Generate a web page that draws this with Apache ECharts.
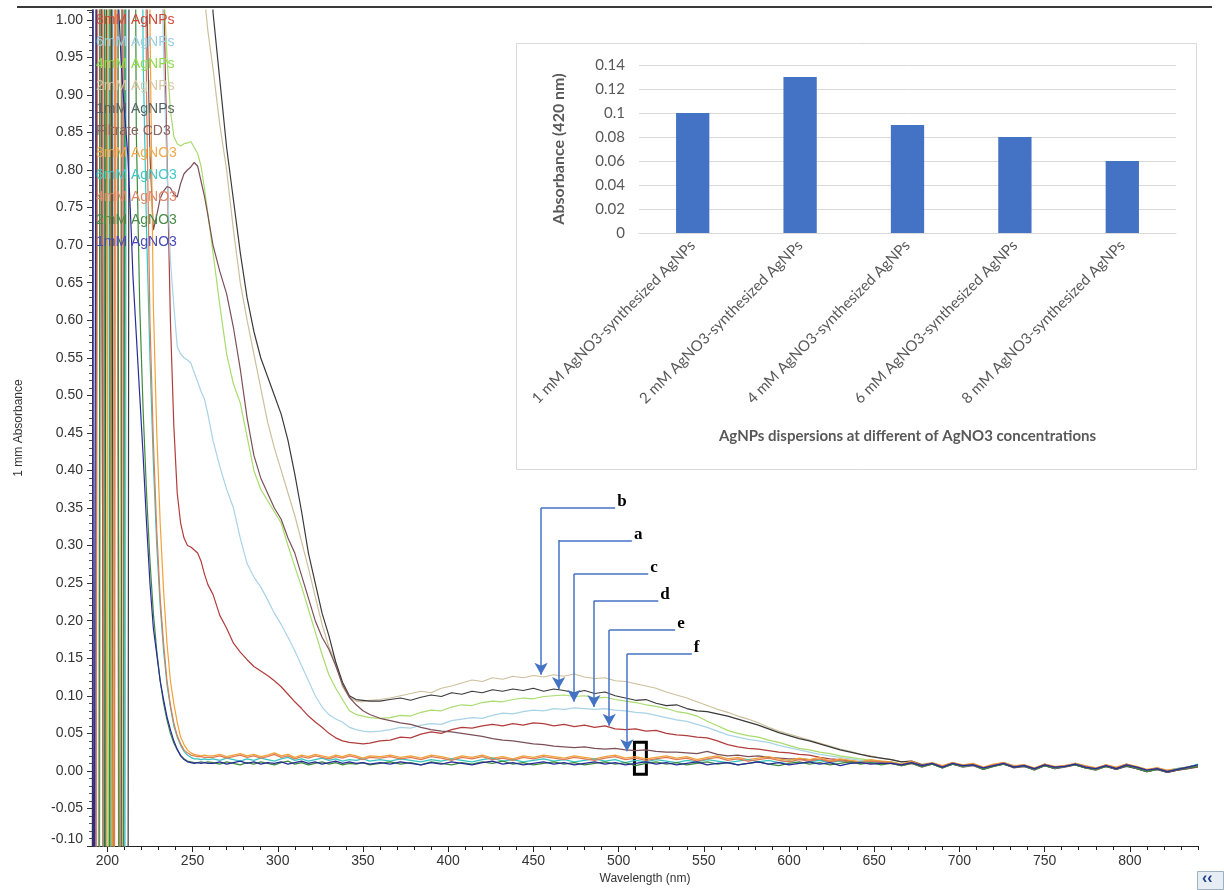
<!DOCTYPE html>
<html>
<head>
<meta charset="utf-8">
<title>UV-Vis spectra of AgNPs</title>
<script src="https://cdn.jsdelivr.net/npm/echarts@6/dist/echarts.min.js"></script>
<style>
  html, body { margin: 0; padding: 0; background: #fff; }
  #chart { width: 1224px; height: 890px; }
</style>
</head>
<body>
<div id="chart"></div>
<script>
// wavelength grid (nm) shared by all spectra
const wavelength = [
  191,192,193,194,195,196,197,198,199,200,201,202,203,204,205,206,207,208,209,210,211,212,213,214,215,
  217,219,221,223,225,227,229,231,233,235,237,239,241,243,245,247,249,251,253,255,257,259,
  262,266,270,274,278,282,286,290,294,298,302,306,310,314,318,322,326,330,334,338,342,346,350,354,
  360,366,372,378,384,390,396,402,408,414,420,426,432,438,444,450,456,462,468,474,
  480,486,492,498,504,510,516,522,528,534,540,546,552,558,564,570,576,582,588,594,
  600,606,612,618,624,630,636,642,648,654,660,666,672,678,684,690,696,702,708,714,
  720,726,732,738,744,750,756,762,768,774,780,786,792,798,804,810,816,822,828,834,840
]

// absorbance (values above 1.01 / below -0.10 are off scale)
const agnp8mM = [
  -0.6,-0.6,-0.6,-0.6,-0.6,1.8,1.8,1.8,1.8,1.8,1.8,1.8,-0.6,-0.6,-0.6,-0.6,-0.6,-0.6,1.8,1.8,1.8,1.8,1.8,1.8,1.8,
  1.8,1.8,1.8,1.8,1.8,1.8,1.8,1.4,1.05,0.82,0.6,0.46,0.37,0.33,0.31,0.3,0.298,0.294,0.29,0.279,0.262,0.248,
  0.235,0.207,0.19,0.17,0.158,0.148,0.139,0.133,0.127,0.12,0.112,0.102,0.092,0.083,0.073,0.065,0.058,0.05,0.044,0.04,0.038,0.037,0.036,0.037,
  0.04,0.041,0.045,0.044,0.049,0.052,0.05,0.055,0.058,0.057,0.06,0.062,0.06,0.063,0.061,0.064,0.063,0.06,0.062,0.059,
  0.061,0.058,0.06,0.056,0.055,0.056,0.053,0.054,0.05,0.048,0.047,0.045,0.044,0.04,0.035,0.032,0.03,0.029,0.027,0.025,
  0.024,0.022,0.021,0.018,0.016,0.015,0.013,0.012,0.012,0.011,0.011,0.008,0.012,0.006,0.010,0.006,0.011,0.007,0.008,0.004,
  0.008,0.011,0.006,0.007,0.003,0.009,0.005,0.006,0.010,0.006,0.003,0.008,0.004,0.009,0.005,0.001,0.004,0.000,0.003,0.005,0.008
]
const agnp6mM = [
  1.8,1.8,1.8,-0.6,-0.6,-0.6,-0.6,-0.6,-0.6,-0.6,1.8,1.8,1.8,-0.6,-0.6,-0.6,-0.6,-0.6,-0.6,-0.6,-0.6,1.8,1.8,1.8,1.8,
  1.8,1.8,1.8,1.8,1.8,1.8,1.8,1.2,0.95,0.8,0.68,0.62,0.565,0.555,0.55,0.547,0.543,0.53,0.518,0.505,0.495,0.475,
  0.44,0.405,0.375,0.35,0.31,0.276,0.258,0.245,0.228,0.21,0.195,0.178,0.16,0.14,0.12,0.1,0.085,0.075,0.069,0.065,0.058,0.055,0.053,0.052,
  0.053,0.055,0.058,0.057,0.061,0.063,0.062,0.067,0.069,0.071,0.07,0.074,0.077,0.076,0.079,0.081,0.08,0.083,0.082,0.084,
  0.083,0.082,0.083,0.081,0.08,0.078,0.077,0.074,0.071,0.068,0.066,0.062,0.058,0.053,0.048,0.045,0.042,0.04,0.038,0.034,
  0.031,0.028,0.025,0.022,0.02,0.018,0.016,0.014,0.013,0.012,0.010,0.008,0.011,0.007,0.009,0.004,0.010,0.006,0.009,0.004,
  0.006,0.010,0.006,0.008,0.003,0.007,0.005,0.007,0.008,0.004,0.003,0.006,0.003,0.007,0.005,0.001,0.002,0.001,0.003,0.004,0.007
]
const agnp4mM = [
  -0.6,-0.6,-0.6,-0.6,-0.6,-0.6,1.8,1.8,1.8,1.8,-0.6,-0.6,-0.6,-0.6,-0.6,-0.6,-0.6,-0.6,1.8,1.8,1.8,1.8,1.8,1.8,1.8,
  1.8,1.8,1.8,1.8,1.8,1.8,1.8,1.8,1.05,0.95,0.88,0.845,0.835,0.832,0.835,0.836,0.838,0.83,0.822,0.805,0.775,0.742,
  0.69,0.62,0.555,0.515,0.49,0.445,0.4,0.375,0.36,0.345,0.33,0.3,0.272,0.245,0.215,0.185,0.155,0.128,0.11,0.095,0.08,0.075,0.073,0.071,
  0.07,0.071,0.074,0.073,0.078,0.081,0.08,0.085,0.088,0.087,0.091,0.093,0.092,0.095,0.097,0.096,0.099,0.1,0.101,0.099,
  0.1,0.097,0.098,0.095,0.093,0.091,0.088,0.086,0.083,0.079,0.077,0.073,0.066,0.06,0.054,0.05,0.047,0.045,0.041,0.038,
  0.034,0.03,0.028,0.025,0.023,0.02,0.018,0.016,0.014,0.013,0.012,0.009,0.011,0.008,0.010,0.005,0.009,0.007,0.008,0.003,
  0.007,0.009,0.005,0.006,0.002,0.008,0.004,0.007,0.009,0.005,0.002,0.007,0.002,0.008,0.003,0.000,0.003,-0.002,0.002,0.004,0.006
]
const agnp2mM = [
  1.8,1.8,-0.6,-0.6,-0.6,-0.6,1.8,1.8,1.8,1.8,1.8,-0.6,-0.6,-0.6,1.8,1.8,1.8,1.8,1.8,1.8,1.8,1.8,1.8,1.8,1.8,
  1.8,1.8,1.8,1.8,1.8,1.8,1.8,1.8,1.8,1.8,1.8,1.8,1.8,1.8,1.8,1.8,1.8,1.8,1.8,1.8,1.03,0.985,
  0.935,0.86,0.8,0.72,0.65,0.6,0.555,0.51,0.465,0.43,0.4,0.37,0.34,0.305,0.27,0.232,0.195,0.165,0.145,0.112,0.098,0.093,0.092,0.094,
  0.095,0.097,0.1,0.103,0.106,0.104,0.11,0.113,0.117,0.121,0.119,0.124,0.122,0.126,0.124,0.127,0.125,0.128,0.126,0.129,
  0.125,0.123,0.124,0.12,0.119,0.116,0.113,0.11,0.105,0.101,0.097,0.092,0.087,0.082,0.078,0.073,0.069,0.064,0.058,0.053,
  0.049,0.045,0.041,0.037,0.033,0.029,0.026,0.022,0.02,0.017,0.015,0.012,0.013,0.009,0.011,0.006,0.010,0.007,0.009,0.004,
  0.008,0.010,0.006,0.007,0.003,0.008,0.005,0.006,0.010,0.005,0.003,0.007,0.004,0.008,0.004,0.001,0.003,0.000,0.003,0.004,0.008
]
const agnp1mM = [
  -0.6,1.8,1.8,1.8,1.8,1.8,1.8,-0.6,-0.6,1.8,1.8,1.8,1.8,-0.6,-0.6,-0.6,-0.6,-0.6,-0.6,-0.6,-0.6,-0.6,1.8,1.8,1.8,
  1.8,1.8,1.8,1.8,1.8,1.8,1.8,1.8,1.8,1.8,1.8,1.8,1.8,1.8,1.8,1.8,1.8,1.8,1.8,1.8,1.8,1.8,
  1.01,0.92,0.83,0.76,0.69,0.63,0.585,0.55,0.525,0.5,0.475,0.44,0.395,0.345,0.29,0.25,0.21,0.18,0.145,0.118,0.1,0.095,0.094,0.093,
  0.093,0.095,0.097,0.094,0.098,0.101,0.099,0.104,0.102,0.106,0.104,0.108,0.106,0.109,0.107,0.11,0.106,0.109,0.107,0.104,
  0.107,0.103,0.105,0.1,0.097,0.094,0.095,0.09,0.087,0.088,0.083,0.08,0.079,0.076,0.073,0.069,0.065,0.061,0.056,0.051,
  0.047,0.043,0.04,0.036,0.032,0.028,0.025,0.022,0.019,0.017,0.015,0.012,0.013,0.008,0.010,0.005,0.009,0.006,0.008,0.003,
  0.007,0.009,0.005,0.006,0.002,0.007,0.003,0.006,0.008,0.004,0.002,0.006,0.002,0.006,0.003,-0.001,0.002,-0.002,0.001,0.003,0.006
]
const filtrate = [
  -0.6,-0.6,-0.6,1.8,1.8,1.8,1.8,-0.6,-0.6,-0.6,-0.6,-0.6,-0.6,-0.6,-0.6,-0.6,-0.6,-0.6,1.8,1.8,1.8,1.8,1.8,1.8,1.8,
  1.8,1.8,1.8,1.05,0.82,0.72,0.74,0.762,0.772,0.778,0.776,0.768,0.764,0.782,0.795,0.8,0.804,0.81,0.805,0.785,0.765,0.74,
  0.7,0.665,0.635,0.59,0.535,0.47,0.42,0.39,0.37,0.35,0.335,0.31,0.29,0.26,0.23,0.2,0.178,0.162,0.14,0.115,0.098,0.088,0.08,0.075,
  0.07,0.067,0.064,0.062,0.058,0.055,0.053,0.052,0.05,0.048,0.046,0.043,0.041,0.04,0.038,0.036,0.035,0.033,0.032,0.031,
  0.032,0.03,0.029,0.03,0.028,0.027,0.028,0.026,0.025,0.025,0.024,0.023,0.026,0.022,0.02,0.021,0.019,0.02,0.018,0.017,
  0.016,0.016,0.015,0.014,0.013,0.013,0.012,0.011,0.01,0.011,0.010,0.007,0.010,0.005,0.009,0.004,0.009,0.005,0.007,0.002,
  0.006,0.009,0.004,0.006,0.001,0.007,0.003,0.005,0.008,0.004,0.001,0.006,0.002,0.007,0.003,-0.001,0.002,-0.002,0.001,0.003,0.005
]
const no3_8mM = [
  -0.6,-0.6,-0.6,-0.6,-0.6,-0.6,-0.6,-0.6,-0.6,-0.6,1.8,1.8,-0.6,-0.6,1.8,1.8,1.8,1.8,1.8,1.8,1.8,1.8,1.8,1.8,1.8,
  1.8,1.8,1.8,1.8,1.0,0.62,0.45,0.33,0.24,0.17,0.12,0.09,0.065,0.045,0.035,0.028,0.024,0.022,0.021,0.02,0.021,0.02,
  0.020,0.022,0.019,0.021,0.023,0.020,0.022,0.019,0.021,0.024,0.020,0.022,0.018,0.021,0.019,0.022,0.020,0.018,0.021,0.019,0.022,0.020,0.017,0.020,
  0.019,0.021,0.018,0.020,0.017,0.021,0.019,0.016,0.020,0.018,0.021,0.017,0.019,0.016,0.020,0.018,0.021,0.019,0.017,0.020,
  0.018,0.016,0.019,0.021,0.017,0.019,0.016,0.018,0.020,0.017,0.019,0.015,0.018,0.020,0.016,0.018,0.015,0.017,0.019,0.016,
  0.014,0.017,0.015,0.018,0.013,0.016,0.014,0.012,0.015,0.013,0.012,0.009,0.013,0.007,0.011,0.007,0.011,0.008,0.010,0.005,
  0.009,0.011,0.007,0.008,0.004,0.009,0.006,0.007,0.010,0.007,0.004,0.008,0.005,0.009,0.006,0.002,0.004,0.001,0.003,0.005,0.008
]
const no3_6mM = [
  -0.6,-0.6,-0.6,-0.6,-0.6,-0.6,-0.6,-0.6,1.8,1.8,1.8,-0.6,-0.6,-0.6,-0.6,-0.6,-0.6,-0.6,-0.6,-0.6,1.8,1.8,1.8,1.8,1.8,
  1.8,1.8,0.95,0.72,0.55,0.41,0.3,0.22,0.16,0.115,0.085,0.06,0.045,0.034,0.026,0.021,0.018,0.016,0.016,0.015,0.016,0.015,
  0.016,0.014,0.017,0.015,0.013,0.016,0.014,0.017,0.015,0.013,0.016,0.018,0.014,0.016,0.013,0.015,0.017,0.014,0.016,0.013,0.015,0.014,0.016,0.013,
  0.015,0.013,0.016,0.014,0.012,0.015,0.013,0.016,0.014,0.012,0.015,0.017,0.013,0.015,0.012,0.014,0.016,0.013,0.015,0.012,
  0.014,0.016,0.013,0.015,0.011,0.014,0.012,0.015,0.013,0.011,0.014,0.012,0.015,0.013,0.011,0.013,0.015,0.012,0.014,0.011,
  0.013,0.010,0.012,0.014,0.011,0.013,0.010,0.012,0.011,0.010,0.011,0.008,0.011,0.006,0.010,0.005,0.010,0.006,0.008,0.003,
  0.007,0.010,0.006,0.007,0.002,0.008,0.004,0.006,0.009,0.006,0.002,0.007,0.003,0.008,0.004,0.000,0.003,-0.001,0.003,0.005,0.009
]
const no3_4mM = [
  -0.6,-0.6,-0.6,-0.6,1.8,1.8,1.8,-0.6,-0.6,-0.6,-0.6,-0.6,-0.6,-0.6,1.8,1.8,-0.6,-0.6,-0.6,1.8,1.8,1.8,1.8,1.8,1.8,
  1.8,1.8,1.8,0.9,0.6,0.44,0.32,0.23,0.17,0.12,0.088,0.064,0.047,0.036,0.028,0.024,0.021,0.02,0.019,0.019,0.018,0.018,
  0.018,0.020,0.017,0.019,0.021,0.018,0.020,0.017,0.019,0.022,0.018,0.020,0.016,0.019,0.017,0.020,0.018,0.016,0.019,0.017,0.020,0.018,0.015,0.018,
  0.017,0.019,0.016,0.018,0.015,0.019,0.017,0.014,0.018,0.016,0.019,0.015,0.017,0.014,0.018,0.016,0.019,0.017,0.015,0.018,
  0.016,0.014,0.017,0.019,0.015,0.017,0.014,0.016,0.018,0.015,0.017,0.013,0.016,0.018,0.014,0.016,0.013,0.015,0.017,0.014,
  0.012,0.015,0.013,0.016,0.012,0.014,0.012,0.011,0.013,0.012,0.011,0.008,0.012,0.007,0.010,0.006,0.010,0.007,0.009,0.004,
  0.008,0.010,0.006,0.008,0.003,0.008,0.005,0.007,0.009,0.006,0.003,0.007,0.004,0.008,0.005,0.001,0.003,0.000,0.002,0.005,0.007
]
const no3_2mM = [
  -0.6,-0.6,-0.6,-0.6,-0.6,1.8,1.8,1.8,-0.6,-0.6,-0.6,1.8,1.8,1.8,1.8,1.8,-0.6,-0.6,-0.6,-0.6,1.8,1.8,1.8,1.8,1.8,
  0.85,0.62,0.48,0.37,0.28,0.21,0.16,0.12,0.09,0.068,0.05,0.037,0.028,0.021,0.016,0.013,0.012,0.011,0.011,0.012,0.011,0.012,
  0.011,0.009,0.012,0.010,0.008,0.011,0.009,0.012,0.010,0.008,0.011,0.013,0.009,0.011,0.008,0.010,0.012,0.009,0.011,0.008,0.010,0.009,0.011,0.008,
  0.010,0.012,0.009,0.011,0.008,0.012,0.010,0.008,0.011,0.009,0.012,0.010,0.013,0.009,0.011,0.008,0.010,0.012,0.009,0.011,
  0.008,0.010,0.012,0.009,0.011,0.007,0.010,0.012,0.009,0.011,0.008,0.010,0.012,0.009,0.011,0.008,0.010,0.012,0.009,0.007,
  0.010,0.012,0.009,0.011,0.008,0.010,0.012,0.009,0.011,0.008,0.010,0.007,0.010,0.006,0.009,0.004,0.009,0.006,0.008,0.002,
  0.006,0.009,0.005,0.007,0.002,0.007,0.004,0.006,0.008,0.004,0.002,0.006,0.003,0.007,0.004,-0.001,0.002,-0.001,0.002,0.004,0.006
]
const no3_1mM = [
  1.8,-0.6,-0.6,1.8,1.8,1.8,1.8,1.8,1.8,1.8,1.8,1.8,1.8,1.8,1.8,1.05,1.0,0.95,0.91,0.88,0.85,0.82,0.77,0.72,0.66,
  0.58,0.5,0.42,0.33,0.25,0.19,0.155,0.12,0.095,0.072,0.055,0.04,0.029,0.02,0.015,0.012,0.011,0.01,0.011,0.01,0.011,0.01,
  0.010,0.012,0.009,0.011,0.013,0.010,0.012,0.009,0.011,0.010,0.012,0.009,0.011,0.013,0.010,0.012,0.009,0.011,0.013,0.010,0.012,0.010,0.011,0.009,
  0.011,0.009,0.012,0.010,0.008,0.011,0.009,0.012,0.010,0.008,0.011,0.013,0.009,0.011,0.008,0.010,0.012,0.009,0.011,0.008,
  0.010,0.012,0.009,0.011,0.008,0.010,0.012,0.009,0.011,0.008,0.010,0.012,0.008,0.010,0.011,0.008,0.010,0.012,0.009,0.011,
  0.008,0.010,0.012,0.009,0.011,0.007,0.010,0.011,0.009,0.010,0.010,0.008,0.011,0.007,0.010,0.005,0.010,0.007,0.008,0.004,
  0.007,0.010,0.005,0.007,0.003,0.008,0.005,0.006,0.009,0.005,0.003,0.007,0.003,0.008,0.005,0.001,0.003,-0.001,0.002,0.005,0.008
]

const seriesNames = ['8mM AgNPs', '6mM AgNPs', '4mM AgNPs', '2mM AgNPs', '1mM AgNPs', 'Filtrate CD3',
  '8mM AgNO3', '6mM AgNO3', '4mM AgNO3', '2mM AgNO3', '1mM AgNO3']
const seriesValues = [agnp8mM, agnp6mM, agnp4mM, agnp2mM, agnp1mM, filtrate,
  no3_8mM, no3_6mM, no3_4mM, no3_2mM, no3_1mM]
const lineColors = ['#b23c3c', '#a9d3e6', '#a8dc6c', '#cdbf9c', '#3a3a3a', '#7c5058',
  '#f0a236', '#34c6c0', '#e07a54', '#3d8a3d', '#2a2a9a']
const legendColors = ['#d04a3a', '#9ccfe2', '#8edc4e', '#d6c9a6', '#556464', '#8a6262',
  '#f0aa50', '#44c8c6', '#e0896a', '#4a8a4a', '#4a4ab8']

// SPR arrows a-f (nm / absorbance)
const arrowLetters = ['b', 'a', 'c', 'd', 'e', 'f']
const arrowStemNm = [454.5, 464.8, 473.8, 485.5, 494.5, 504.9]
const arrowEndNm = [498.0, 507.8, 517.4, 523.3, 533.2, 543.0]
const arrowTopAbs = [0.350, 0.307, 0.262, 0.2265, 0.1875, 0.1555]
const arrowTipAbs = [0.128, 0.109, 0.092, 0.085, 0.060, 0.026]

// inset bar chart
const insetCategories = ['1 mM AgNO3-synthesized AgNPs', '2 mM AgNO3-synthesized AgNPs',
  '4 mM AgNO3-synthesized AgNPs', '6 mM AgNO3-synthesized AgNPs', '8 mM AgNO3-synthesized AgNPs']
const insetValues = [0.10, 0.13, 0.09, 0.08, 0.06]

const xMinorTicks = [200,210,220,230,240,250,260,270,280,290,300,310,320,330,340,350,360,370,380,390,
  400,410,420,430,440,450,460,470,480,490,500,510,520,530,540,550,560,570,580,590,
  600,610,620,630,640,650,660,670,680,690,700,710,720,730,740,750,760,770,780,790,800,810,820,830,840]
const xMajorTicks = [200,250,300,350,400,450,500,550,600,650,700,750,800]

const chart = echarts.init(document.getElementById('chart'), null, { renderer: 'canvas' })

const spectra = seriesNames.map((name, i) => ({
  name,
  type: 'line',
  xAxisIndex: 0,
  yAxisIndex: 0,
  data: wavelength.map((w, k) => [w, seriesValues[i][k]]),
  showSymbol: false,
  symbol: 'none',
  clip: true,
  lineStyle: { color: lineColors[i], width: 1.2 },
  itemStyle: { color: lineColors[i] },
  animation: false
}))

const arrowLines = []
arrowLetters.forEach((letter, i) => {
  arrowLines.push([
    { coord: [arrowStemNm[i], arrowTopAbs[i]], symbol: 'none' },
    {
      coord: [arrowEndNm[i], arrowTopAbs[i]], symbol: 'none',
      label: {
        show: true, position: 'end', formatter: letter, distance: 2, offset: [0, -6],
        color: '#000', fontFamily: 'Liberation Serif', fontWeight: 'bold', fontSize: 17
      }
    }
  ])
  arrowLines.push([
    { coord: [arrowStemNm[i], arrowTopAbs[i]], symbol: 'none' },
    { coord: [arrowStemNm[i], arrowTipAbs[i]], symbol: 'arrow' }
  ])
})

const axisFont = { fontFamily: 'Liberation Sans', fontSize: 14, color: '#333' }
const insetFont = 'Lato'

const option = {
  animation: false,
  backgroundColor: '#fff',
  legend: {
    orient: 'vertical',
    left: 91,
    top: 12,
    padding: 0,
    itemWidth: 0,
    itemHeight: 0,
    itemGap: 6.2,
    selectedMode: false,
    textStyle: { fontFamily: 'Liberation Sans', fontSize: 14, lineHeight: 16 },
    data: seriesNames.map((n, i) => ({ name: n, icon: 'none', textStyle: { color: legendColors[i] } }))
  },
  grid: [
    { left: 92, right: 26, top: 10, bottom: 44 },
    { left: 639, top: 65, width: 537, height: 168 }
  ],
  xAxis: [
    {
      gridIndex: 0,
      type: 'value',
      min: 191,
      max: 840,
      axisLine: { show: true, onZero: false, lineStyle: { color: '#222', width: 1 } },
      axisTick: { show: true, customValues: xMinorTicks, length: 4, lineStyle: { color: '#222' } },
      axisLabel: { show: false },
      splitLine: { show: false }
    },
    {
      gridIndex: 0,
      type: 'value',
      min: 191,
      max: 840,
      position: 'bottom',
      axisLine: { show: false, onZero: false },
      axisTick: { show: true, customValues: xMajorTicks, length: 6, lineStyle: { color: '#222' } },
      axisLabel: { show: true, customValues: xMajorTicks, margin: 8, ...axisFont },
      splitLine: { show: false },
      name: 'Wavelength (nm)',
      nameLocation: 'middle',
      nameGap: 27,
      nameTextStyle: { fontFamily: 'Liberation Sans', fontSize: 12, color: '#333' }
    },
    {
      gridIndex: 1,
      type: 'category',
      data: insetCategories,
      axisLine: { show: true, lineStyle: { color: '#d9d9d9' } },
      axisTick: { show: false },
      axisLabel: {
        rotate: 45, margin: 10, color: '#595959', fontFamily: insetFont, fontSize: 15
      },
      name: 'AgNPs dispersions at different of AgNO3 concentrations',
      nameLocation: 'middle',
      nameGap: 196,
      nameTextStyle: { color: '#595959', fontFamily: insetFont, fontWeight: 'bold', fontSize: 15 }
    }
  ],
  yAxis: [
    {
      gridIndex: 0,
      type: 'value',
      min: -0.1,
      max: 1.013,
      interval: 0.05,
      axisLine: { show: true, onZero: false, lineStyle: { color: '#333', type: 'dotted' } },
      axisTick: { show: true, length: 5, lineStyle: { color: '#333' } },
      minorTick: { show: true, splitNumber: 5, length: 3, lineStyle: { color: '#555' } },
      axisLabel: {
        formatter: v => v.toFixed(2), margin: 9, showMaxLabel: false,
        verticalAlignMinLabel: 'bottom', ...axisFont
      },
      splitLine: { show: false },
      name: '1 mm Absorbance',
      nameLocation: 'middle',
      nameGap: 67,
      nameTextStyle: { fontFamily: 'Liberation Sans', fontSize: 12, color: '#333' }
    },
    {
      gridIndex: 1,
      type: 'value',
      min: 0,
      max: 0.14,
      interval: 0.02,
      axisLine: { show: false },
      axisTick: { show: false },
      axisLabel: { margin: 14, color: '#595959', fontFamily: insetFont, fontSize: 15 },
      splitLine: { lineStyle: { color: '#d9d9d9' } },
      name: 'Absorbance (420 nm)',
      nameLocation: 'middle',
      nameGap: 72,
      nameTextStyle: { color: '#595959', fontFamily: insetFont, fontWeight: 'bold', fontSize: 16 }
    }
  ],
  graphic: [
    {
      type: 'rect', z: 0,
      shape: { x: 516.5, y: 43.5, width: 680, height: 426 },
      style: { fill: '#fff', stroke: '#d9d9d9', lineWidth: 1 }
    },
    {
      type: 'line', z: 100,
      shape: { x1: 17, y1: 7, x2: 1212, y2: 7 },
      style: { stroke: '#3a3a3a', lineWidth: 2 }
    },
    {
      type: 'rect', z: 100,
      shape: { x: 1197.5, y: 871.5, width: 26, height: 18 },
      style: { fill: '#e6edf5', stroke: '#9fb0c2', lineWidth: 1 }
    },
    {
      type: 'text', z: 101, x: 1202, y: 871,
      style: { text: '‹‹', fill: '#1f3f8f', font: 'bold 16px Liberation Sans' }
    }
  ],
  series: [
    ...spectra,
    {
      name: 'annotations',
      type: 'line',
      xAxisIndex: 0,
      yAxisIndex: 0,
      data: [],
      z: 10,
      markLine: {
        silent: true,
        animation: false,
        symbolSize: [10, 12],
        lineStyle: { color: '#4472c4', width: 1.5, type: 'solid' },
        label: { show: false },
        emphasis: { disabled: true },
        data: arrowLines
      },
      markArea: {
        silent: true,
        itemStyle: { color: '#fff', borderColor: '#000', borderWidth: 3 },
        data: [[{ coord: [509.3, 0.0382] }, { coord: [516.3, -0.0044] }]]
      }
    },
    {
      name: 'Absorbance (420 nm)',
      type: 'bar',
      xAxisIndex: 2,
      yAxisIndex: 1,
      data: insetValues,
      barWidth: '31%',
      itemStyle: { color: '#4472c4' },
      animation: false
    }
  ]
}

chart.setOption(option)
</script>
</body>
</html>
